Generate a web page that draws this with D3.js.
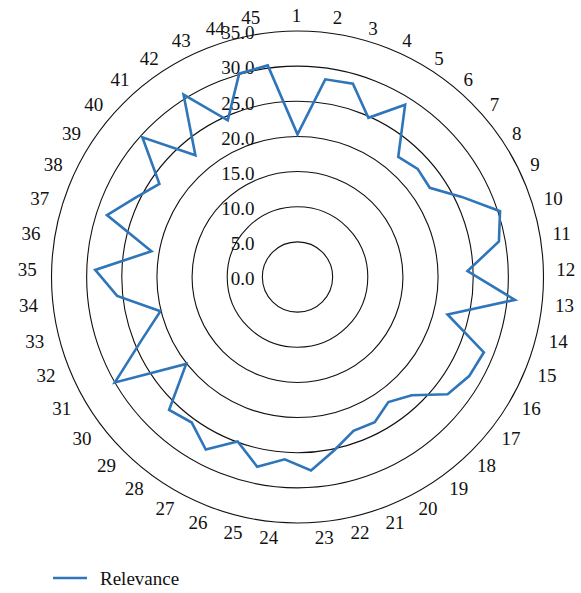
<!DOCTYPE html>
<html>
<head>
<meta charset="utf-8">
<script src="https://cdn.jsdelivr.net/npm/d3@7"></script>
<style>
  html, body { margin: 0; padding: 0; background: #fff; }
  svg { display: block; }
  text { font-family: "Liberation Serif", "Times New Roman", serif; fill: #111; }
</style>
</head>
<body>
<svg id="chart" width="581" height="593"></svg>
<script>
// ---- data ----
const categories = d3.range(1, 46).map(String);
const relevance = [
  20.3, 28.4, 28.6, 24.8, 28.9, 22.3, 23.0, 22.7, 26.0, 30.3,
  29.1, 24.2, 31.1, 22.0, 28.6, 28.2, 27.1, 23.4, 22.0, 23.4,
  23.3, 25.2, 27.6, 26.0, 27.6, 24.9, 27.8, 25.6, 26.3, 20.1,
  30.0, 23.9, 20.1, 25.8, 28.8, 21.1, 28.5, 25.7, 23.7, 29.7,
  22.6, 30.6, 24.4, 30.1, 30.4
];
const tickValues = [0, 5, 10, 15, 20, 25, 30, 35];
const tickLabels = ["0.0", "5.0", "10.0", "15.0", "20.0", "25.0", "30.0", "35.0"];
const seriesName = "Relevance";

// ---- layout ----
const svg = d3.select("#chart");
const cx = 297.5, cy = 277;
const R = 246;
const r = d3.scaleLinear().domain([0, 35]).range([0, R]);
const angle = d3.scaleLinear().domain([0, categories.length]).range([0, 2 * Math.PI]);
const lineColor = "#2E75B9";

const g = svg.append("g").attr("transform", `translate(${cx},${cy})`);

// rings (skip 0)
g.selectAll("circle.ring")
  .data(tickValues.filter(v => v > 0))
  .join("circle")
  .attr("class", "ring")
  .attr("r", d => r(d))
  .attr("fill", "none")
  .attr("stroke", "#111")
  .attr("stroke-width", 1.1);

// ring labels
g.selectAll("text.tick")
  .data(tickValues)
  .join("text")
  .attr("class", "tick")
  .attr("x", -43)
  .attr("y", d => -r(d) + 1.8)
  .attr("text-anchor", "end")
  .attr("dominant-baseline", "central")
  .style("font-size", "19px")
  .text((d, i) => tickLabels[i]);

// series line
const line = d3.lineRadial()
  .angle((d, i) => angle(i))
  .radius(d => r(d))
  .curve(d3.curveLinearClosed);

g.append("path")
  .datum(relevance)
  .attr("d", line)
  .attr("fill", "none")
  .attr("stroke", lineColor)
  .attr("stroke-width", 2.6)
  .attr("stroke-linejoin", "miter");

// category labels
const Rl = 260;
svg.append("g")
  .selectAll("text.cat")
  .data(categories)
  .join("text")
  .attr("class", "cat")
  .each(function(d, i) {
    const a = angle(i);
    const s = Math.sin(a), c = Math.cos(a);
    const x = 296.5 + Rl * s;
    const y = cy - Rl * c + (Math.abs(c) > 0.98 && c > 0 ? -2 : 1.5);
    const anchor = s > 0.02 ? "start" : (s < -0.02 ? "end" : "middle");
    d3.select(this)
      .attr("x", x)
      .attr("y", y)
      .attr("text-anchor", anchor)
      .attr("dominant-baseline", "central");
  })
  .style("font-size", "19px")
  .text(d => d);

// legend
const leg = svg.append("g").attr("transform", "translate(53,578)");
leg.append("line")
  .attr("x1", 0).attr("x2", 34).attr("y1", 0).attr("y2", 0)
  .attr("stroke", lineColor).attr("stroke-width", 2.6);
leg.append("text")
  .attr("x", 47).attr("y", 0)
  .attr("dominant-baseline", "central")
  .style("font-size", "19px")
  .text(seriesName);
</script>
</body>
</html>
